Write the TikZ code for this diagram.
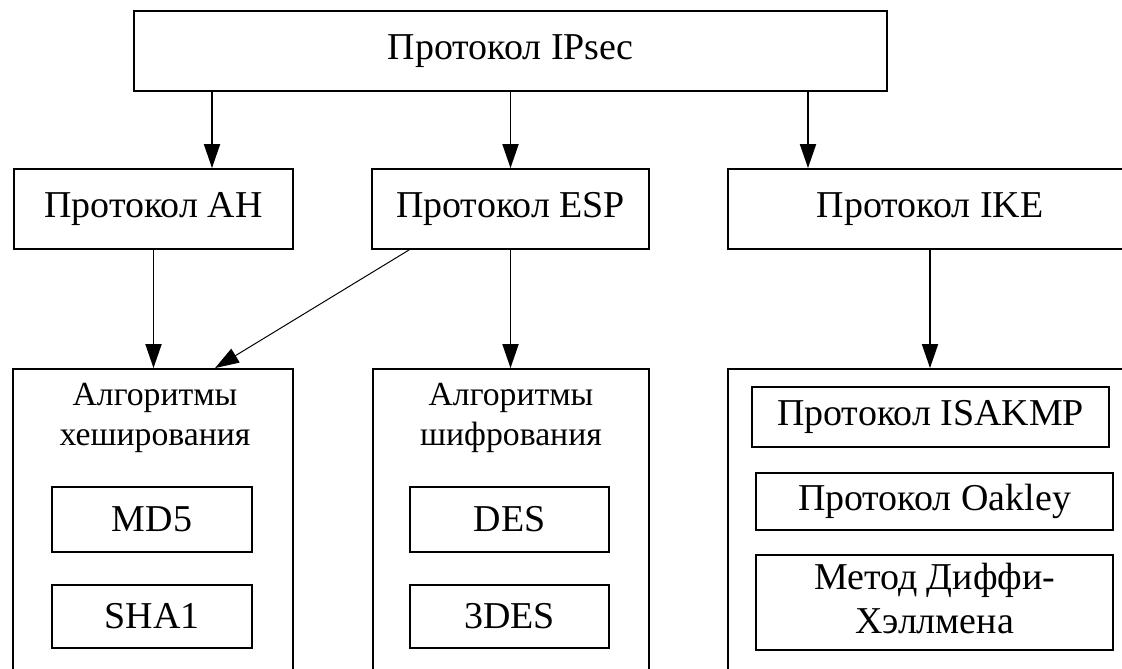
\documentclass[tikz,border=0pt]{standalone}
\usepackage{fontspec}
\setmainfont{Liberation Serif}
\usetikzlibrary{arrows.meta}
\usetikzlibrary{positioning}

\begin{document}
\begin{tikzpicture}[
					x=0.25mm, y=-0.25mm,
					line width=1.3pt,
					node distance=7.75mm,
					box/.style={draw, inner sep=0pt, align=center, font=\fontsize{27}{31.3}\selectfont},
					heading/.style={inner sep=0pt, align=center, font=\fontsize{24}{28.5}\selectfont},
					arrow/.style={-{Triangle[length=6mm, width=4mm]}},
					thinarrow/.style={line width=0.7pt, -{Triangle[length=6mm, width=4mm]}},
				]
					\useasboundingbox (0,0) rectangle (1122,668);
					\clip (0,0) rectangle (1122,668);
					
					\node (ipsec) [box, minimum width=188.25mm, minimum height=20mm] at (510.5,51) {Протокол IPsec};
					\node (ah) [box, minimum width=69.75mm, minimum height=20mm] at (153.5,209) {Протокол AH};
					\node (esp) [box, minimum width=69.25mm, minimum height=20mm] at (510.5,209) {Протокол ESP};
					\node (ike) [box, minimum width=101mm, minimum height=20mm] at (930,209) {Протокол IKE};
					
					\node (hash) [box, minimum width=70mm, minimum height=80.25mm] at (153,529.5) {};
					\node (enc) [box, minimum width=69mm, minimum height=80.25mm] at (511,529.5) {};
					\node (ikealg) [box, minimum width=101mm, minimum height=80.25mm] at (930,529.5) {};
					
					\node (hashlbl) [heading] at (155,418) {Алгоритмы\\хеширования};
					\node (enclbl) [heading] at (511,418) {Алгоритмы\\шифрования};
					
					\node (md5) [box, minimum width=50mm, minimum height=16.25mm] at (152,519.5) {MD5};
					\node (sha) [box, minimum width=50mm, minimum height=15.75mm, below=of md5] {SHA1};
					\node (des) [box, minimum width=49.75mm, minimum height=16.25mm] at (509.5,519.5) {DES};
					\node (tdes) [box, minimum width=49.75mm, minimum height=15.75mm, below=of des] {3DES};
					
					\node (isakmp) [box, minimum width=89.25mm, minimum height=15mm] at (930.5,417) {Протокол ISAKMP};
					\node (oakley) [box, minimum width=89.25mm, minimum height=14.25mm, below=6mm of isakmp, xshift=1mm] {Протокол Oakley};
					\node (dh) [box, minimum width=89.25mm, minimum height=23.75mm, below=5.75mm of oakley] {Метод Диффи-\\Хэллмена\vphantom{р}};
					
					\draw[arrow] ([xshift=14.625mm]ah.north |- ipsec.south) -- ([xshift=14.625mm]ah.north);
					\draw[arrow] (ipsec.south -| esp.north) -- (esp.north);
					\draw[arrow] ([xshift=-30.5mm]ike.north |- ipsec.south) -- ([xshift=-30.5mm]ike.north);
					\draw[arrow] (ah.south) -- (ah.south |- hash.north);
					\draw[arrow] (esp.south) -- (esp.south |- enc.north);
					\draw[arrow] (ike.south) -- (ike.south |- ikealg.north);
					\draw[thinarrow] ([xshift=9.5mm]esp.south west) -- ([xshift=15.5mm]hash.north);
				\end{tikzpicture}
\end{document}
